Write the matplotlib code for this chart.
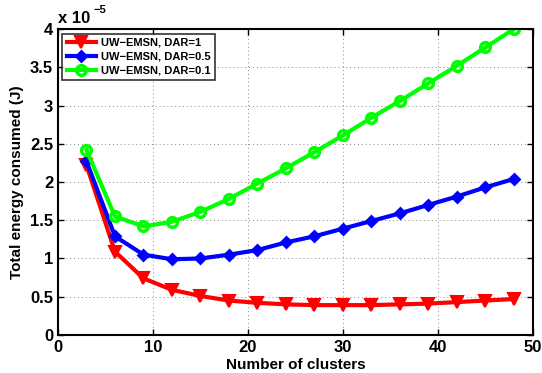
import numpy as np
import matplotlib.pyplot as plt

plt.rcParams.update({'font.family': 'Liberation Sans', 'font.weight': 'bold'})

clusters = [3, 6, 9, 12, 15, 18, 21, 24, 27, 30, 33, 36, 39, 42, 45, 48]
dar_1 = [2.22, 1.09, 0.74, 0.59, 0.51, 0.45, 0.42, 0.40, 0.39, 0.39, 0.39, 0.40, 0.41, 0.43, 0.45, 0.47]
dar_05 = [2.27, 1.29, 1.05, 0.99, 1.00, 1.05, 1.11, 1.21, 1.29, 1.39, 1.49, 1.59, 1.70, 1.81, 1.93, 2.04]
dar_01 = [2.42, 1.55, 1.42, 1.48, 1.61, 1.78, 1.98, 2.18, 2.39, 2.61, 2.84, 3.06, 3.29, 3.52, 3.76, 4.00]

fig = plt.figure(figsize=(5.42, 3.73), dpi=100)
ax = fig.add_axes([0.107, 0.102, 0.876, 0.820])

ax.plot(clusters, dar_1, color='#ff0000', lw=3, marker='v', ms=8, mew=1.5, label='UW\u2212EMSN, DAR=1')
ax.plot(clusters, dar_05, color='#0000ff', lw=3, marker='D', ms=5.5, mew=2, label='UW\u2212EMSN, DAR=0.5')
ax.plot(clusters, dar_01, color='#00ff00', lw=3, marker='o', ms=7, mew=2.5, mfc='none', label='UW\u2212EMSN, DAR=0.1')

ax.set_xlim(0, 50)
ax.set_ylim(0, 4)
ax.set_xticks(np.arange(0, 51, 10))
ax.set_yticks(np.arange(0, 4.01, 0.5))
ax.set_yticklabels(['0', '0.5', '1', '1.5', '2', '2.5', '3', '3.5', '4'])
ax.tick_params(direction='in', top=True, right=True, labelsize=12, width=1, length=4)
for lab in ax.get_xticklabels() + ax.get_yticklabels():
    lab.set_fontweight('bold')
ax.grid(True, linestyle=(0, (1, 3)), color='#888888', lw=0.7)
for s in ax.spines.values():
    s.set_linewidth(1.5)

ax.set_xlabel('Number of clusters', fontsize=11, fontweight='bold', labelpad=2)
ax.set_ylabel('Total energy consumed (J)', fontsize=11, fontweight='bold')
ax.text(0.0, 1.01, 'x 10', transform=ax.transAxes, fontsize=12, fontweight='bold', va='bottom')
ax.text(0.075, 1.045, '\u22125', transform=ax.transAxes, fontsize=8, fontweight='bold', va='bottom')

leg = ax.legend(loc='upper left', fontsize=8, frameon=True, fancybox=False, handlelength=2.6,
                borderaxespad=0.4, labelspacing=0.35, handletextpad=0.5)
leg.get_frame().set_edgecolor('black')
leg.get_frame().set_linewidth(1.2)
for t in leg.get_texts():
    t.set_fontweight('bold')

fig.savefig('out.png', dpi=100)
